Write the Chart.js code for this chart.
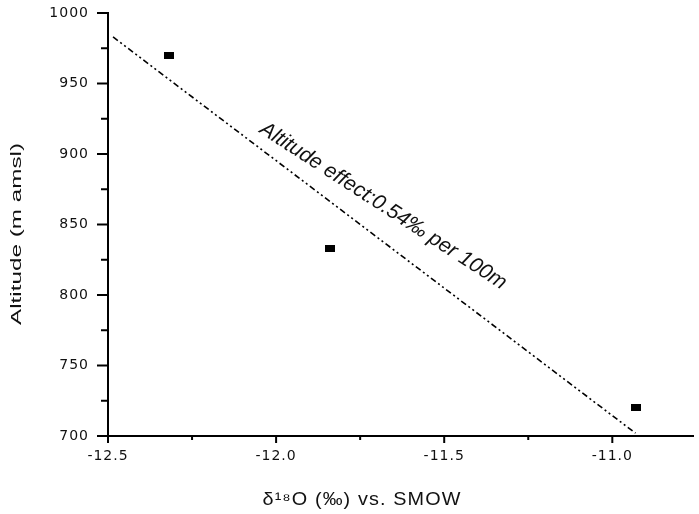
<!DOCTYPE html>
<html>
<head>
<meta charset="utf-8">
<script src="https://cdn.jsdelivr.net/npm/chart.js@4.4.1/dist/chart.umd.min.js"></script>
<style>
  html, body { margin: 0; padding: 0; background: #fff; }
  #wrap { width: 699px; height: 514px; position: relative; }
</style>
</head>
<body>
<div id="wrap"><canvas id="chart"></canvas></div>
<script>
// Altitude vs. d18O scatter with the altitude-effect regression line

/* ---------------- data ---------------- */
const SAMPLE_X = [-12.32, -11.84, -10.93];     // d18O (permil)
const SAMPLE_Y = [970, 833, 720];              // altitude (m amsl)

const FIT_X = [-12.485, -10.931];              // regression line ends
const FIT_Y = [983, 702];

const X_TICKS = [-12.5, -12.0, -11.5, -11.0];
const X_MINOR = [-12.25, -11.75, -11.25];
const Y_TICKS = [700, 750, 800, 850, 900, 950, 1000];
const Y_MINOR = [725, 775, 825, 875, 925, 975];

const X_TITLE = 'δ¹⁸O (‰) vs. SMOW';
const Y_TITLE = 'Altitude (m amsl)';
const NOTE = 'Altitude effect:0.54‰ per 100m';

/* ---------------- helpers ---------------- */
const INK = '#111';

// small filled rectangle used as the sample marker
function makeMarker() {
  const c = document.createElement('canvas');
  c.width = 10; c.height = 7;
  const g = c.getContext('2d');
  g.fillStyle = '#000';
  g.fillRect(0, 0, 10, 7);
  return c;
}

// text squeezed/stretched to a given width (old plotting software look)
function stretchedText(ctx, text, cx, cy, width, rot) {
  ctx.save();
  ctx.translate(cx, cy);
  ctx.rotate(rot);
  const w = ctx.measureText(text).width;
  ctx.scale(width / w, 1);
  ctx.textAlign = 'center';
  ctx.textBaseline = 'middle';
  ctx.fillText(text, 0, 0);
  ctx.restore();
}

// drop the automatic label overflow padding so the plot area is exact
function noPad(s) {
  s.paddingTop = 0; s.paddingBottom = 0;
  s.paddingLeft = 0; s.paddingRight = 0;
}

/* ---------------- plugins ---------------- */
const tickSpacing = {
  id: 'tickSpacing',
  beforeDraw(chart) { chart.ctx.letterSpacing = '1px'; },
  afterDatasetsDraw(chart) { chart.ctx.letterSpacing = '0px'; }
};

const axisMarks = {
  id: 'axisMarks',
  afterDraw(chart) {
    const { ctx, scales: { x, y } } = chart;
    ctx.save();
    ctx.strokeStyle = '#000';
    ctx.lineWidth = 2;
    const seg = (x1, y1, x2, y2) => { ctx.beginPath(); ctx.moveTo(x1, y1); ctx.lineTo(x2, y2); ctx.stroke(); };

    Y_TICKS.forEach(v => { const p = y.getPixelForValue(v); seg(x.left - 11, p, x.left, p); });
    Y_MINOR.forEach(v => { const p = y.getPixelForValue(v); seg(x.left - 7, p, x.left, p); });
    X_TICKS.forEach(v => { const p = x.getPixelForValue(v); seg(p, y.bottom, p, y.bottom + 7); });
    X_MINOR.forEach(v => { const p = x.getPixelForValue(v); seg(p, y.bottom, p, y.bottom + 4); });

    // axis titles
    ctx.fillStyle = INK;
    ctx.font = '15px "Liberation Sans", Arial, sans-serif';
    stretchedText(ctx, Y_TITLE, 17, 234, 182, -Math.PI / 2);
    ctx.font = '18px "Liberation Sans", Arial, sans-serif';
    ctx.letterSpacing = '1px';
    stretchedText(ctx, X_TITLE, 362, 500, 199, 0);
    ctx.letterSpacing = '0px';

    // slope annotation along the fit line
    const ax = x.getPixelForValue(-12.052);
    const ay = y.getPixelForValue(915.6);
    ctx.save();
    ctx.translate(ax, ay);
    ctx.rotate(33 * Math.PI / 180);
    ctx.font = 'italic 21px "Liberation Sans", Arial, sans-serif';
    ctx.textAlign = 'left';
    ctx.textBaseline = 'alphabetic';
    ctx.fillText(NOTE, 0, 0);
    ctx.restore();

    ctx.restore();
  }
};

/* ---------------- chart ---------------- */
const samples = SAMPLE_X.map((v, i) => ({ x: v, y: SAMPLE_Y[i] }));
const fit = FIT_X.map((v, i) => ({ x: v, y: FIT_Y[i] }));

new Chart(document.getElementById('chart'), {
  type: 'scatter',
  data: {
    datasets: [
      {
        label: 'fit',
        data: fit,
        showLine: true,
        borderColor: '#000',
        borderWidth: 1.6,
        borderDash: [6, 3, 2, 3, 2, 3],
        pointRadius: 0,
        pointHoverRadius: 0
      },
      {
        label: 'samples',
        data: samples,
        pointStyle: makeMarker(),
        pointRadius: 5,
        backgroundColor: '#000',
        borderColor: '#000'
      }
    ]
  },
  options: {
    responsive: true,
    maintainAspectRatio: false,
    animation: false,
    layout: { padding: { top: 13, right: 0, left: 0, bottom: 0 } },
    plugins: { legend: { display: false }, tooltip: { enabled: false } },
    scales: {
      x: {
        type: 'linear',
        min: -12.5,
        max: -10.76,
        afterBuildTicks: s => { s.ticks = X_TICKS.map(v => ({ value: v })); },
        afterFit: s => { s.height = 78; noPad(s); },
        grid: { display: false, drawTicks: false },
        border: { display: true, color: '#000', width: 2 },
        ticks: {
          color: INK,
          padding: 12,
          maxRotation: 0,
          font: { family: '"DejaVu Sans", sans-serif', size: 14 },
          callback: v => v.toFixed(1)
        }
      },
      y: {
        type: 'linear',
        min: 700,
        max: 1000,
        afterBuildTicks: s => { s.ticks = Y_TICKS.map(v => ({ value: v })); },
        afterFit: s => { s.width = 108; noPad(s); },
        grid: { display: false, drawTicks: false },
        border: { display: true, color: '#000', width: 2 },
        ticks: {
          color: INK,
          padding: 19,
          font: { family: '"DejaVu Sans", sans-serif', size: 14 },
          callback: v => String(v)
        }
      }
    }
  },
  plugins: [tickSpacing, axisMarks]
});
</script>
</body>
</html>
